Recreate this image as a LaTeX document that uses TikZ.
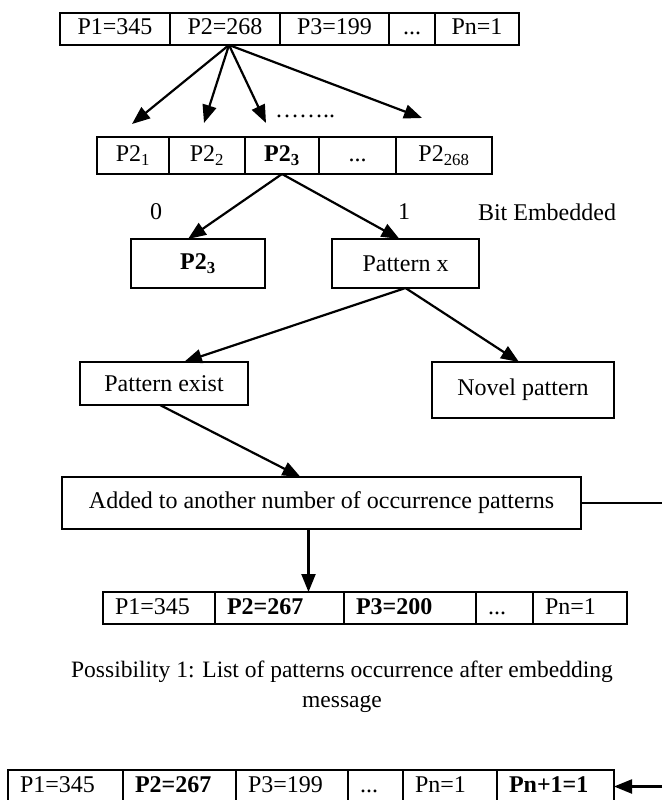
\documentclass[tikz,border=0pt]{standalone}
\usepackage{fontspec}
\setmainfont{Liberation Serif}
\usetikzlibrary{arrows.meta,positioning}

\begin{document}
\begin{tikzpicture}[x=1pt, y=-1pt,
    lbl/.style={font=\fontsize{24}{28}\selectfont, inner sep=0pt},
    cell/.style={lbl, draw, line width=2.2pt, outer sep=0pt, minimum height=32pt, text height=17pt, text depth=5pt},
    lcell/.style={cell, align=left, inner xsep=12pt},
    box/.style={lbl, draw, line width=2.2pt, outer sep=0pt},
    arr/.style={-{Triangle[length=18pt,width=14pt]}, line width=2.2pt},
    ln/.style={line width=2.2pt}
]
\useasboundingbox (0,0) rectangle (662,800);
\coordinate (rim) at (662,0);

% counts before embedding
\node[cell, minimum width=110pt] (t1) at (115,29) {P1=345};
\node[cell, minimum width=110pt] (t2) at (225,29) {P2=268};
\node[cell, minimum width=109pt] (t3) at (334.5,29) {P3=199};
\node[cell, minimum width=46pt] (t4) at (412,29) {{.}{.}{.}};
\node[cell, minimum width=84pt] (t5) at (477,29) {Pn=1};

\coordinate (h1) at (132,124);
\coordinate (h2) at (204,123);
\coordinate (h3) at (266,123);
\coordinate (h4) at (422,118);
\node[lbl] (dots) at (305,116) {……..};
\draw[arr] ([xshift=4pt]t2.south) -- (h1);
\draw[arr] ([xshift=4pt]t2.south) -- (h2);
\draw[arr] ([xshift=4pt]t2.south) -- (h3);
\draw[arr] ([xshift=4pt]t2.south) -- (h4);

% occurrences of P2
\node[cell, minimum width=72pt, minimum height=37pt] (s1) at (133,155.5) {P2\textsubscript{1}};
\node[cell, minimum width=76pt, minimum height=37pt] (s2) at (207,155.5) {P2\textsubscript{2}};
\node[cell, minimum width=74pt, minimum height=37pt] (s3) at (282,155.5) {\textbf{P2\textsubscript{3}}};
\node[cell, minimum width=77pt, minimum height=37pt] (s4) at (357.5,155.5) {{.}{.}{.}};
\node[cell, minimum width=96pt, minimum height=37pt] (s5) at (444,155.5) {P2\textsubscript{268}};

\node[lbl] (bit0) at (156,212) {0};
\node[lbl] (bit1) at (404,212) {1};
\node[lbl] (bitlbl) at (547,212) {Bit Embedded};

\node[box, minimum width=134pt, minimum height=49pt] (keep) at (198,263.5) {\textbf{P2\textsubscript{3}}};
\node[box, minimum width=147pt, minimum height=49pt] (patx) at (405.5,263.5) {Pattern x};
\draw[arr] (s3.south) -- ([xshift=-10pt]keep.north);
\draw[arr] (s3.south) -- ([xshift=-6pt]patx.north);

\node[box, minimum width=168pt, minimum height=43pt] (exist) at (164,383.5) {Pattern exist};
\node[box, minimum width=182pt, minimum height=56pt] (novel) at (523,390) {Novel pattern};
\draw[arr] (patx.south) -- ([xshift=20pt]exist.north);
\draw[arr] (patx.south) -- ([xshift=-4pt]novel.north);

\node[box, minimum width=519pt, minimum height=52pt] (added) at (321.5,503) {Added to another number of occurrence patterns};
\draw[arr] ([xshift=-4pt]exist.south) -- ([xshift=-21pt]added.north);
\draw[ln] (added.east) -- (added.east -| rim);

% possibility 1
\node[lcell, text width=88pt] (u1) at (159,608) {P1=345};
\node[lcell, text width=105pt] (u2) at (279.5,608) {\textbf{P2=267}};
\node[lcell, text width=108pt] (u3) at (410,608) {\textbf{P3=200}};
\node[lcell, text width=33pt] (u4) at (504.5,608) {{.}{.}{.}};
\node[lcell, text width=70pt] (u5) at (580,608) {Pn=1};
\draw[arr] ([xshift=-13pt]added.south) -- ([xshift=-13pt]added.south |- u2.north);

\node[lbl, align=center, font=\fontsize{23.5}{30}\selectfont] (cap) at (342,687) {Possibility 1: List of patterns occurrence after embedding\\message};

% possibility 2
\node[lcell, text width=91pt, minimum height=33pt] (b1) at (65.5,786.5) {P1=345};
\node[lcell, text width=89pt, minimum height=33pt] (b2) at (179.5,786.5) {\textbf{P2=267}};
\node[lcell, text width=88pt, minimum height=33pt] (b3) at (292,786.5) {P3=199};
\node[lcell, text width=31pt, minimum height=33pt] (b4) at (375.5,786.5) {{.}{.}{.}};
\node[lcell, text width=70pt, minimum height=33pt] (b5) at (450,786.5) {Pn=1};
\node[lcell, text width=93pt, minimum height=33pt] (b6) at (555.5,786.5) {\textbf{Pn+1=1}};
\draw[arr] (rim |- b6.east) -- (b6.east);
\end{tikzpicture}
\end{document}
